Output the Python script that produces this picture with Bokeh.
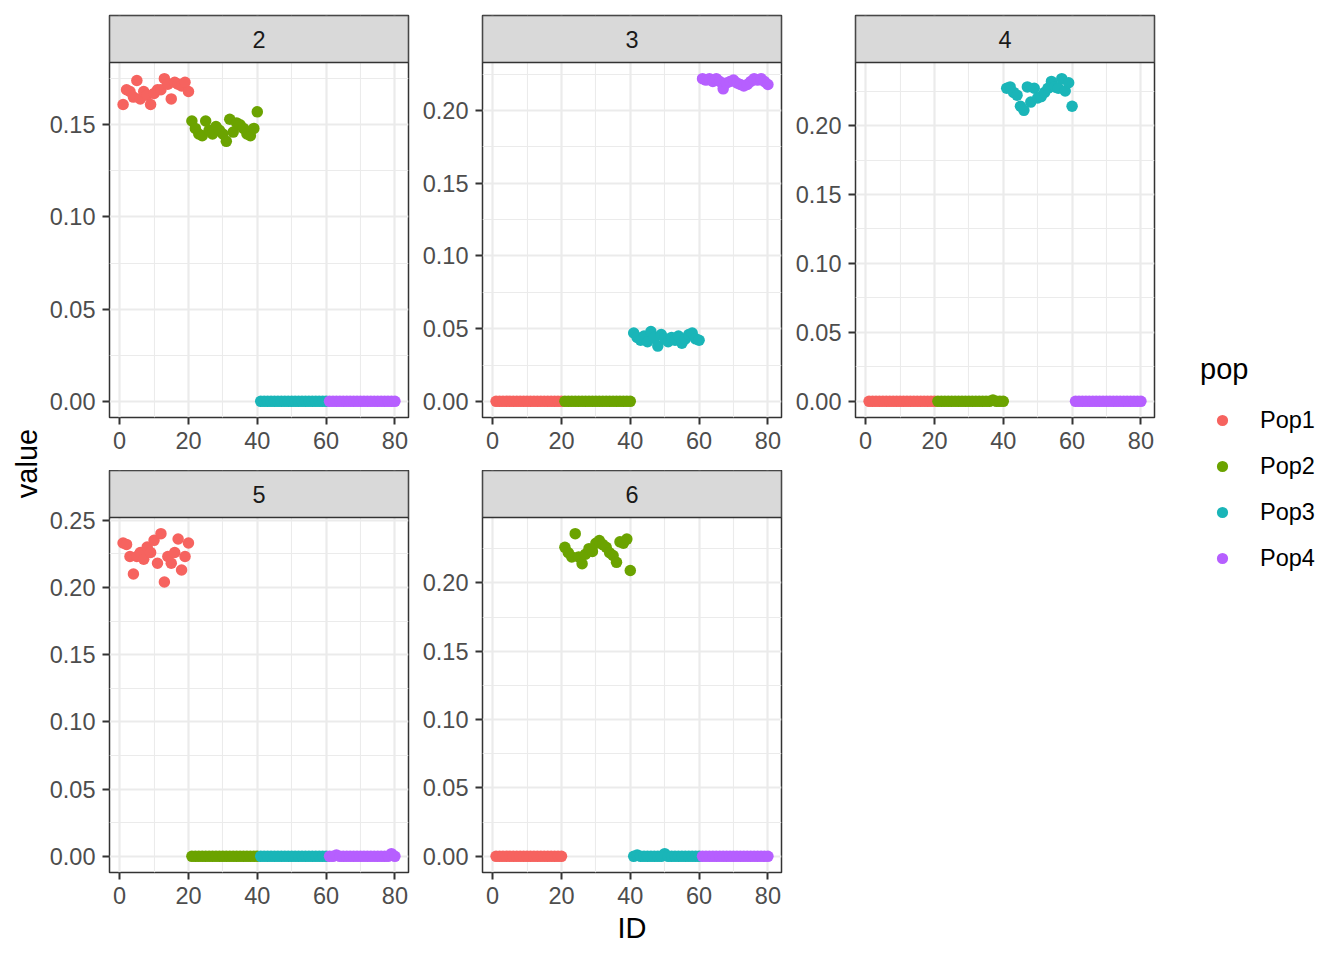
import math
from bokeh.plotting import figure
from bokeh.layouts import row, column
from bokeh.models import (ColumnDataSource, FixedTicker, NumeralTickFormatter, Range1d,
                          Label, Legend, LegendItem, BoxAnnotation)
from bokeh.embed import file_html
from bokeh.resources import INLINE

# ---------------- data ----------------
IDS = list(range(1, 81))
POP_NAMES = ["Pop1", "Pop2", "Pop3", "Pop4"]
POP_COLORS = ["#F6635F", "#6BA300", "#1AB5B8", "#B65FFF"]
POP = ["Pop1"] * 20 + ["Pop2"] * 20 + ["Pop3"] * 20 + ["Pop4"] * 20

FACETS = ["2", "3", "4", "5", "6"]

K2_POP1 = [0.161, 0.169, 0.168, 0.165, 0.174, 0.164, 0.168, 0.166, 0.161, 0.167,
           0.169, 0.169, 0.175, 0.172, 0.164, 0.173, 0.172, 0.171, 0.173, 0.168]
K2_POP2 = [0.152, 0.148, 0.145, 0.144, 0.152, 0.147, 0.145, 0.149, 0.147, 0.145,
           0.141, 0.153, 0.146, 0.151, 0.150, 0.148, 0.145, 0.144, 0.148, 0.157]
K2_POP3 = [0, 0, 0, 0, 0, 0, 0, 0, 0, 0, 0, 0, 0, 0, 0, 0, 0, 0, 0, 0]
K2_POP4 = [0, 0, 0, 0, 0, 0, 0, 0, 0, 0, 0, 0, 0, 0, 0, 0, 0, 0, 0, 0]

K3_POP1 = [0, 0, 0, 0, 0, 0, 0, 0, 0, 0, 0, 0, 0, 0, 0, 0, 0, 0, 0, 0]
K3_POP2 = [0, 0, 0, 0, 0, 0, 0, 0, 0, 0, 0, 0, 0, 0, 0, 0, 0, 0, 0, 0]
K3_POP3 = [0.047, 0.044, 0.042, 0.045, 0.041, 0.048, 0.044, 0.038, 0.046, 0.043,
           0.041, 0.044, 0.042, 0.045, 0.040, 0.043, 0.046, 0.047, 0.043, 0.042]
K3_POP4 = [0.222, 0.221, 0.222, 0.220, 0.222, 0.220, 0.215, 0.219, 0.220, 0.221,
           0.219, 0.218, 0.217, 0.218, 0.220, 0.222, 0.221, 0.222, 0.220, 0.218]

K4_POP1 = [0, 0, 0, 0, 0, 0, 0, 0, 0, 0, 0, 0, 0, 0, 0, 0, 0, 0, 0, 0]
K4_POP2 = [0, 0, 0, 0, 0, 0, 0, 0, 0, 0, 0, 0, 0, 0, 0, 0, 0.001, 0, 0, 0]
K4_POP3 = [0.227, 0.228, 0.224, 0.222, 0.214, 0.211, 0.228, 0.217, 0.227, 0.220,
           0.221, 0.224, 0.227, 0.232, 0.228, 0.227, 0.234, 0.225, 0.231, 0.214]
K4_POP4 = [0, 0, 0, 0, 0, 0, 0, 0, 0, 0, 0, 0, 0, 0, 0, 0, 0, 0, 0, 0]

K5_POP1 = [0.233, 0.232, 0.223, 0.210, 0.223, 0.226, 0.221, 0.230, 0.226, 0.235,
           0.218, 0.240, 0.204, 0.223, 0.218, 0.226, 0.236, 0.213, 0.223, 0.233]
K5_POP2 = [0, 0, 0, 0, 0, 0, 0, 0, 0, 0, 0, 0, 0, 0, 0, 0, 0, 0, 0, 0]
K5_POP3 = [0, 0, 0, 0, 0, 0, 0, 0, 0, 0, 0, 0, 0, 0, 0, 0, 0, 0, 0, 0]
K5_POP4 = [0, 0, 0.001, 0, 0, 0, 0, 0, 0, 0, 0, 0, 0, 0, 0, 0, 0, 0, 0.002, 0]

K6_POP1 = [0, 0, 0, 0, 0, 0, 0, 0, 0, 0, 0, 0, 0, 0, 0, 0, 0, 0, 0, 0]
K6_POP2 = [0.226, 0.222, 0.219, 0.236, 0.219, 0.214, 0.221, 0.225, 0.223, 0.229,
           0.231, 0.228, 0.226, 0.222, 0.220, 0.215, 0.230, 0.229, 0.232, 0.209]
K6_POP3 = [0, 0.001, 0, 0, 0, 0, 0, 0, 0, 0.002, 0, 0, 0, 0, 0, 0, 0, 0, 0, 0]
K6_POP4 = [0, 0, 0, 0, 0, 0, 0, 0, 0, 0, 0, 0, 0, 0, 0, 0, 0, 0, 0, 0]

FACET_VALUES = {
    "2": K2_POP1 + K2_POP2 + K2_POP3 + K2_POP4,
    "3": K3_POP1 + K3_POP2 + K3_POP3 + K3_POP4,
    "4": K4_POP1 + K4_POP2 + K4_POP3 + K4_POP4,
    "5": K5_POP1 + K5_POP2 + K5_POP3 + K5_POP4,
    "6": K6_POP1 + K6_POP2 + K6_POP3 + K6_POP4,
}

X_TICKS = [0, 20, 40, 60, 80]
X_MINOR = [10, 30, 50, 70]
Y_TICKS = [0.0, 0.05, 0.10, 0.15, 0.20, 0.25]
Y_MINOR = [0.025, 0.075, 0.125, 0.175, 0.225, 0.275]

# ---------------- style ----------------
FONT = "Liberation Sans"
TICK_FS = "23.5px"
TITLE_FS = "29px"
FRAME_W, FRAME_H, STRIP_H = 299, 355, 47
BORDER_L, BORDER_R = 64, 10
YLAB_W = 45
TOTAL_H = 952
color_of = dict(zip(POP_NAMES, POP_COLORS))
COLORS = [color_of[p] for p in POP]


def expanded(lo, hi):
    pad = 0.05 * (hi - lo)
    return lo - pad, hi + pad


def make_panel(key, top, bottom, xlabel=None):
    vals = FACET_VALUES[key]
    x0, x1 = expanded(min(IDS), max(IDS))
    y0, y1 = expanded(min(vals), max(vals))
    extra = (y1 - y0) * STRIP_H / FRAME_H      # room for the strip above the panel
    y_end = y1 + extra
    p = figure(frame_width=FRAME_W, frame_height=FRAME_H + STRIP_H,
               x_range=Range1d(x0, x1), y_range=Range1d(y0, y_end),
               min_border_left=BORDER_L, min_border_right=BORDER_R,
               min_border_top=top, min_border_bottom=bottom,
               toolbar_location=None, output_backend="svg")
    p.background_fill_color = "white"
    p.border_fill_color = "white"
    p.outline_line_color = "#333333"
    p.outline_line_width = 1.5
    p.xaxis.ticker = FixedTicker(ticks=X_TICKS, minor_ticks=X_MINOR)
    p.yaxis.ticker = FixedTicker(ticks=[t for t in Y_TICKS if y0 <= t <= y1],
                                 minor_ticks=[t for t in Y_MINOR if y0 <= t <= y1])
    p.yaxis.formatter = NumeralTickFormatter(format="0.00")
    for ax in (p.xaxis[0], p.yaxis[0]):
        ax.axis_line_color = None
        ax.major_tick_line_color = "#333333"
        ax.major_tick_line_width = 2
        ax.major_tick_out = 7
        ax.major_tick_in = 0
        ax.minor_tick_line_color = None
        ax.major_label_text_font = FONT
        ax.major_label_text_font_size = TICK_FS
        ax.major_label_text_color = "#4D4D4D"
        ax.major_label_standoff = 7
    if xlabel:
        p.xaxis.axis_label = xlabel
        p.xaxis.axis_label_text_font = FONT
        p.xaxis.axis_label_text_font_size = TITLE_FS
        p.xaxis.axis_label_text_font_style = "normal"
        p.xaxis.axis_label_text_color = "black"
        p.xaxis.axis_label_standoff = 5
    for g in p.grid:
        g.grid_line_color = "#EBEBEB"
        g.grid_line_width = 2.2
        g.minor_grid_line_color = "#EBEBEB"
        g.minor_grid_line_width = 1.1
    src = ColumnDataSource(dict(ID=IDS, value=vals, pop=POP, color=COLORS))
    p.scatter(x="ID", y="value", source=src, color="color", size=11.5, line_width=0)
    # facet strip
    p.add_layout(BoxAnnotation(left=x0, right=x1, bottom=y1, top=y_end,
                               fill_color="#D9D9D9", fill_alpha=1.0,
                               line_color="#333333", line_width=1.5, line_alpha=1.0))
    p.add_layout(Label(x=(x0 + x1) / 2, y=y1 + extra / 2, text=key,
                       text_align="center", text_baseline="middle",
                       text_font=FONT, text_font_size=TICK_FS, text_color="#1A1A1A"))
    return p


p2 = make_panel(FACETS[0], 15, 53)
p5 = make_panel(FACETS[3], 0, 53)
p3 = make_panel(FACETS[1], 15, 53)
p6 = make_panel(FACETS[4], 0, 40, xlabel="ID")
p4 = make_panel(FACETS[2], 15, 53)

# y axis title
ylab = figure(frame_width=YLAB_W, frame_height=TOTAL_H, x_range=Range1d(0, YLAB_W), y_range=Range1d(0, TOTAL_H),
              min_border=0, x_axis_location=None, y_axis_location=None, toolbar_location=None,
              output_backend="svg")
ylab.outline_line_color = None
ylab.grid.visible = False
ylab.add_layout(Label(x=26, y=TOTAL_H - 463, x_units="screen", y_units="screen", text="value",
                      angle=math.pi / 2, text_align="center", text_baseline="middle",
                      text_font=FONT, text_font_size=TITLE_FS, text_color="black"))

# legend
LEG_LEFT = YLAB_W + 3 * (BORDER_L + FRAME_W + BORDER_R)
leg = figure(frame_width=169, frame_height=TOTAL_H, x_range=Range1d(0, 1), y_range=Range1d(0, 1),
             min_border=0, x_axis_location=None, y_axis_location=None, toolbar_location=None,
             output_backend="svg")
leg.outline_line_color = None
leg.grid.visible = False
items = []
for name, col in zip(POP_NAMES, POP_COLORS):
    r = leg.scatter(x=[float("nan")], y=[float("nan")], color=col, size=11.5, line_width=0)
    items.append(LegendItem(label=name, renderers=[r]))
legend = Legend(items=items, location=(1200 - LEG_LEFT, 380), title="pop",
                title_text_font=FONT, title_text_font_size=TITLE_FS, title_text_font_style="normal",
                title_text_color="black", title_standoff=20,
                label_text_font=FONT, label_text_font_size=TICK_FS, label_text_color="black",
                glyph_width=44, glyph_height=28, label_standoff=16, spacing=18,
                padding=0, margin=0, border_line_color=None, background_fill_alpha=0)
leg.add_layout(legend)

layout = row(ylab,
             column(p2, p5),
             column(p3, p6),
             column(p4),
             leg)

open("out.html", "w").write(file_html(layout, INLINE))
